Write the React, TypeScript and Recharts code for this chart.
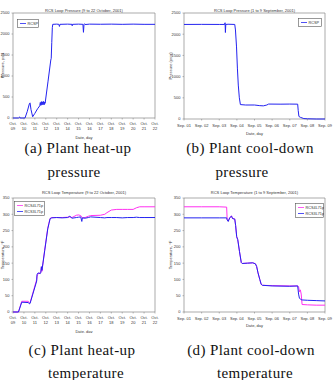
import React from 'react';
import { LineChart, Line, XAxis, YAxis, ReferenceArea, Legend } from 'recharts';

// (a) heat-up pressure, 9 to 22 October
const heatUpPressureDays = [
  9.0, 9.5, 9.6, 9.65, 10.1, 10.3, 10.5, 10.56, 10.65, 10.8, 11.0, 11.25, 11.45, 11.5, 11.55, 11.6,
  11.65, 11.7, 11.75, 11.8, 11.85, 11.9, 11.94, 12.2, 12.46, 12.5, 12.55, 12.6, 12.64, 13.0, 13.2,
  13.25, 13.3, 14.0, 14.4, 14.42, 14.45, 15.0, 15.4, 15.45, 15.5, 15.55, 15.6, 16.0, 17.0, 18.0,
  19.0, 20.0, 21.0, 22.0,
];
const heatUpRcsp = [
  0, 0, 25, 0, 0, 150, 340, 360, 200, 30, 110, 220, 290, 370, 300, 390,
  310, 385, 320, 395, 315, 380, 350, 860, 1380, 1420, 1800, 2150, 2230, 2235, 2230,
  2180, 2230, 2235, 2230, 2195, 2230, 2235, 2230, 2040, 2230, 2245, 2225, 2235, 2232, 2235,
  2230, 2235, 2230, 2230,
];

// (b) cool-down pressure, 1 to 9 September
const coolDownPressureDays = [
  1.0, 2.0, 3.0, 3.3, 3.33, 3.35, 3.37, 3.5, 3.88, 3.92, 3.98, 4.03, 4.08, 4.14, 4.2, 4.5, 5.0,
  5.3, 5.5, 5.7, 5.8, 6.5, 7.0, 7.45, 7.48, 7.52, 7.6, 7.8, 8.0, 8.5, 9.0,
];
const coolDownRcsp = [
  2230, 2232, 2230, 2230, 2270, 2040, 2230, 2235, 2230, 2100, 1700, 1200, 800, 500, 340, 330, 330,
  315, 310, 330, 352, 350, 352, 350, 200, 60, 40, 10, 5, 0, 0,
];

// (c) heat-up temperature
const heatUpTempDays = [
  9.0, 9.5, 9.8, 10.4, 10.5, 10.56, 11.17, 11.2, 11.3, 11.5, 11.55, 11.6, 11.65, 11.9, 12.18,
  12.3, 12.4, 12.55, 13.0, 13.5, 14.0, 14.2, 14.4, 14.8, 15.0, 15.2, 15.3, 15.35, 15.6, 15.9,
  16.1, 17.0, 17.4, 17.6, 18.0, 18.5, 19.0, 19.5, 20.0, 20.3, 20.6, 21.0, 22.0,
];
const heatUpRcs4 = [
  0, 0, 33, 33, 27, 28, 100, 110, 118, 120, 122, 139, 125, 190, 257,
  275, 287, 290, 290, 290, 291, 292, 290, 297, 298, 296, 291, 289, 290, 294,
  296, 297, 300, 305, 313, 315, 315, 315, 315, 320, 323, 323, 323,
];
const heatUpRcs3 = [
  0, 0, 30, 29, 25, 26, 95, 115, 120, 118, 122, 139, 128, 188, 255,
  272, 287, 289, 290, 289, 290, 294, 288, 290, 291, 292, 278, 289, 288, 290,
  292, 290, 289, 290, 290, 290, 289, 290, 290, 291, 290, 290, 290,
];

// (d) cool-down temperature
const coolDownTempDays = [
  1.0, 2.0, 3.0, 3.42, 3.45, 3.51, 3.6, 3.7, 3.75, 3.88, 3.93, 3.99, 4.05, 4.15, 4.25, 4.3, 4.6,
  4.9, 5.05, 5.12, 5.2, 5.3, 5.38, 5.45, 6.0, 7.0, 7.45, 7.5, 7.55, 7.6, 7.65, 7.7, 8.0, 8.5, 9.0,
];
const coolDownRcs4 = [
  323, 323, 323, 322, 283, 279, 290, 295, 287, 286, 265, 231, 222, 185, 152, 149, 150,
  151, 148, 140, 120, 100, 85, 82, 81, 80, 80, 78, 62, 68, 55, 23, 22, 21, 21,
];
const coolDownRcs3 = [
  289, 289, 289, 289, 283, 278, 290, 294, 287, 285, 265, 231, 222, 185, 152, 149, 150,
  151, 148, 140, 120, 100, 85, 82, 80, 79, 80, 55, 42, 40, 38, 37, 36, 35, 34,
];

const octTicks = [9, 10, 11, 12, 13, 14, 15, 16, 17, 18, 19, 20, 21, 22];
const sepTicks = [1, 2, 3, 4, 5, 6, 7, 8, 9];
const pressureTicks = [0, 500, 1000, 1500, 2000, 2500];
const tempTicks = [0, 50, 100, 150, 200, 250, 300, 350];

const BLUE = '#2323f0';
const MAGENTA = '#ff30f0';
const SANS = '"Liberation Sans", Arial, sans-serif';
const SERIF = '"Liberation Serif", "Times New Roman", serif';

const pad = (n: number) => (n < 10 ? '0' + n : '' + n);

const OctTick = (props: any) => {
  const { x, y, payload } = props;
  return (
    <text x={x} y={y} textAnchor="middle" fontSize={4} fill="#333" fontFamily={SANS}>
      <tspan x={x} dy={3}>Oct.</tspan>
      <tspan x={x} dy={5.5}>{pad(payload.value)}</tspan>
    </text>
  );
};

const SepTick = (props: any) => {
  const { x, y, payload } = props;
  return (
    <text x={x} y={y} textAnchor="middle" fontSize={4} fill="#333" fontFamily={SANS}>
      <tspan x={x} dy={4}>{'Sep. ' + pad(payload.value)}</tspan>
    </text>
  );
};

const BoxLegend = ({ items, width }: { items: { name: string; color: string }[]; width: number }) => {
  const h = items.length * 6 + 3;
  return (
    <svg width={width} height={h} style={{ display: 'block' }}>
      <rect x={0.5} y={0.5} width={width - 1} height={h - 1} fill="#fff" stroke="#555" strokeWidth={0.6} />
      {items.map((it, i) => (
        <g key={it.name}>
          <line x1={3} x2={9} y1={4.5 + i * 6} y2={4.5 + i * 6} stroke={it.color} strokeWidth={0.8} />
          <text x={10.5} y={6 + i * 6} fontSize={3.8} fill="#333" fontFamily={SANS}>{it.name}</text>
        </g>
      ))}
    </svg>
  );
};

type Panel = {
  left: number;
  top: number;
  width: number;
  height: number;
  yWidth: number;
  right: number;
  xHeight: number;
  title: string;
  yLabel: string;
  data: any[];
  keys: { key: string; name: string; color: string }[];
  xDomain: number[];
  xTicks: number[];
  yDomain: number[];
  yTicks: number[];
  tick: any;
  xLabelDy: number;
  legend: { left: number; top: number; width: number };
};

const ChartPanel = ({ p }: { p: Panel }) => (
  <div style={{ position: 'absolute', left: p.left, top: p.top, width: p.width, height: p.height }}>
    <LineChart width={p.width} height={p.height} data={p.data} margin={{ top: 13, right: p.right, left: 0, bottom: 0 }}>
      <XAxis
        dataKey="day"
        type="number"
        domain={p.xDomain}
        ticks={p.xTicks}
        interval={0}
        height={p.xHeight}
        axisLine={false}
        tickSize={1.5}
        tickLine={{ stroke: '#777', strokeWidth: 0.5 }}
        tick={p.tick}
        label={{ value: 'Date, day', position: 'insideBottom', offset: p.xLabelDy, fontSize: 4, fill: '#333', fontFamily: SANS }}
      />
      <YAxis
        type="number"
        domain={p.yDomain}
        ticks={p.yTicks}
        interval={0}
        width={p.yWidth}
        axisLine={false}
        tickSize={1.5}
        tickLine={{ stroke: '#777', strokeWidth: 0.5 }}
        tick={{ fontSize: 4, fill: '#333', fontFamily: SANS }}
        label={{ value: p.yLabel, angle: -90, position: 'insideLeft', offset: 3, fontSize: 4, fill: '#333', fontFamily: SANS, style: { textAnchor: 'middle' } }}
      />
      <ReferenceArea x1={p.xDomain[0]} x2={p.xDomain[1]} y1={p.yDomain[0]} y2={p.yDomain[1]} fill="none" stroke="#888" strokeWidth={0.7} />
      <Legend
        layout="horizontal"
        verticalAlign="middle"
        align="center"
        wrapperStyle={{ left: p.legend.left, top: p.legend.top, width: p.legend.width }}
        content={() => <BoxLegend items={p.keys} width={p.legend.width} />}
      />
      {p.keys.map((k) => (
        <Line
          key={k.key}
          dataKey={k.key}
          name={k.name}
          type="linear"
          stroke={k.color}
          strokeWidth={1}
          dot={false}
          isAnimationActive={false}
        />
      ))}
    </LineChart>
    <svg width={p.width} height={14} style={{ position: 'absolute', left: 0, top: 0 }}>
      <text x={p.yWidth + (p.width - p.yWidth - p.right) / 2} y={p.top === 0 ? 11.5 : 8.5} textAnchor="middle" fontSize={4} fill="#333" fontFamily={SANS}>
        {p.title}
      </text>
    </svg>
  </div>
);

const build = (days: number[], series: { [k: string]: number[] }) =>
  days.map((d, i) => {
    const row: any = { day: d };
    Object.keys(series).forEach((k) => (row[k] = series[k][i]));
    return row;
  });

const panels: Panel[] = [
  {
    left: 0, top: 0, width: 168, height: 140, yWidth: 13, right: 13, xHeight: 22,
    title: 'RCS Loop Pressure (9 to 22 October, 2001)', yLabel: 'Pressure, psia',
    data: build(heatUpPressureDays, { rcsp: heatUpRcsp }),
    keys: [{ key: 'rcsp', name: 'RCSP', color: BLUE }],
    xDomain: [9, 22], xTicks: octTicks, yDomain: [0, 2500], yTicks: pressureTicks, tick: OctTick, xLabelDy: 1,
    legend: { left: 17, top: 19, width: 22 },
  },
  {
    left: 168, top: 0, width: 167, height: 140, yWidth: 16, right: 10, xHeight: 21,
    title: 'RCS Loop Pressure (1 to 9 September, 2001)', yLabel: 'Pressure (psia)',
    data: build(coolDownPressureDays, { rcsp: coolDownRcsp }),
    keys: [{ key: 'rcsp', name: 'RCSP', color: BLUE }],
    xDomain: [1, 9], xTicks: sepTicks, yDomain: [0, 2500], yTicks: pressureTicks, tick: SepTick, xLabelDy: 5,
    legend: { left: 130, top: 18, width: 24 },
  },
  {
    left: 0, top: 185, width: 168, height: 148, yWidth: 13, right: 13, xHeight: 21,
    title: 'RCS Loop Temperature (9 to 22 October, 2001)', yLabel: 'Temperature, °F',
    data: build(heatUpTempDays, { rcs4: heatUpRcs4, rcs3: heatUpRcs3 }),
    keys: [
      { key: 'rcs4', name: 'RCS4L71p', color: MAGENTA },
      { key: 'rcs3', name: 'RCS3L71p', color: BLUE },
    ],
    xDomain: [9, 22], xTicks: octTicks, yDomain: [0, 350], yTicks: tempTicks, tick: OctTick, xLabelDy: 0,
    legend: { left: 14, top: 16, width: 31 },
  },
  {
    left: 168, top: 185, width: 167, height: 148, yWidth: 16, right: 10, xHeight: 21,
    title: 'RCS Loop Temperature (1 to 9 September, 2001)', yLabel: 'Temperature, °F',
    data: build(coolDownTempDays, { rcs4: coolDownRcs4, rcs3: coolDownRcs3 }),
    keys: [
      { key: 'rcs4', name: 'RCS4L71p', color: MAGENTA },
      { key: 'rcs3', name: 'RCS3L71p', color: BLUE },
    ],
    xDomain: [1, 9], xTicks: sepTicks, yDomain: [0, 350], yTicks: tempTicks, tick: SepTick, xLabelDy: 6,
    legend: { left: 127, top: 18, width: 29 },
  },
];

const captionStyle: React.CSSProperties = {
  position: 'absolute',
  fontFamily: SERIF,
  fontSize: 15,
  letterSpacing: 0.4,
  color: '#111',
  whiteSpace: 'nowrap',
  textAlign: 'center',
  width: 160,
  lineHeight: '16px',
};

const captions = [
  { text: '(a) Plant heat-up', cx: 78, cy: 148 },
  { text: 'pressure', cx: 74, cy: 172 },
  { text: '(b) Plant cool-down', cx: 250, cy: 148 },
  { text: 'pressure', cx: 242, cy: 172 },
  { text: '(c) Plant heat-up', cx: 82, cy: 350 },
  { text: 'temperature', cx: 86, cy: 373 },
  { text: '(d) Plant cool-down', cx: 251, cy: 350 },
  { text: 'temperature', cx: 255, cy: 373 },
];

export default function App() {
  return (
    <div style={{ position: 'absolute', left: 0, top: 0, width: 335, height: 380, background: '#fff', overflow: 'hidden' }}>
      {panels.map((p) => (
        <ChartPanel key={p.title} p={p} />
      ))}
      {captions.map((c) => (
        <div key={c.text + c.cx} style={{ ...captionStyle, left: c.cx - 80, top: c.cy - 8 }}>
          {c.text}
        </div>
      ))}
    </div>
  );
}
